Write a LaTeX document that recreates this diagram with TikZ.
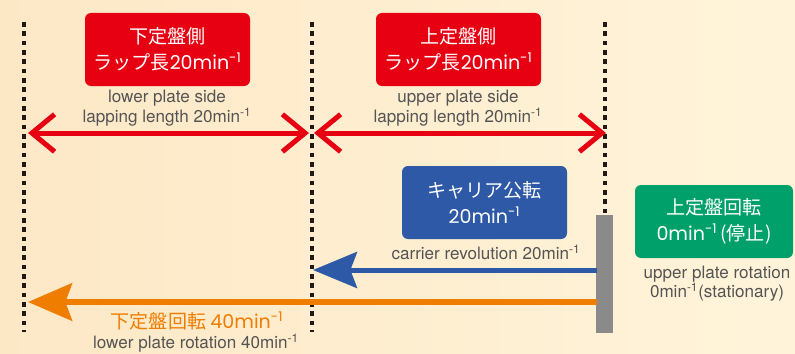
\documentclass[tikz,border=0pt]{standalone}
\usepackage{fontspec}
\setmainfont{TeX Gyre Heros}
\newfontfamily\jpfont{Noto Sans CJK JP}
\newfontfamily\numfont{Poppins}
\usetikzlibrary{arrows.meta}
\definecolor{bgleft}{HTML}{FDE8C6}
\definecolor{bgright}{HTML}{FFF4DA}
\definecolor{lapred}{HTML}{E60012}
\definecolor{carblue}{HTML}{2D59A6}
\definecolor{upgreen}{HTML}{00A06B}
\definecolor{loworange}{HTML}{EF7D00}
\definecolor{bargray}{HTML}{8A8A8A}
\definecolor{dotblack}{HTML}{231815}
\definecolor{txtgray}{HTML}{555454}
\newcommand{\permin}{min\textsuperscript{-1}}

\begin{document}
\begin{tikzpicture}[x=0.75pt,y=-0.75pt,
	colbox/.style={rounded corners=4.5pt, text=white, align=center, inner sep=0pt,
		minimum width=123.75pt, minimum height=54.75pt,
		font=\jpfont\fontsize{14.3}{19.5}\selectfont},
	engtext/.style={text=txtgray, align=center, inner sep=0pt,
		font=\fontsize{12.8}{14.6}\selectfont},
	guide/.style={draw=dotblack, line width=3pt, dash pattern=on 3.6pt off 3.4pt}]
	\useasboundingbox (0,0) rectangle (795,353);
	\shade[left color=bgleft, right color=bgright] (0,0) rectangle (795,353); % background

	% guide lines
	\coordinate (gLtop) at (24,22);   \coordinate (gLbot) at (24,332);
	\coordinate (gMtop) at (312,22);  \coordinate (gMbot) at (312,332);
	\coordinate (gRtop) at (605,22);  \coordinate (gRbot) at (605,215);
	\draw[guide] (gLtop) -- (gLbot);
	\draw[guide] (gMtop) -- (gMbot);
	\draw[guide] (gRtop) -- (gRbot);

	% upper plate (stationary)
	\node[fill=bargray, anchor=north west, inner sep=0pt, minimum width=12.75pt, minimum height=88.5pt] (bar) at (596,215) {};

	% lapping length boxes
	\node[colbox, fill=lapred] (lowbox) at (167.5,49.5) {下定盤側\\ラップ長{\numfont 20\permin}};
	\node[colbox, fill=lapred] (upbox) at (458.5,49.5) {上定盤側\\ラップ長{\numfont 20\permin}};
	\node[engtext] (lowlap) at (167,108) {lower plate side\\lapping length 20\permin};
	\node[engtext] (uplap) at (458,108) {upper plate side\\lapping length 20\permin};

	\coordinate (lapA) at (28,133);
	\coordinate (lapB) at (309,133);
	\coordinate (lapC) at (314,133);
	\coordinate (lapD) at (606,133);
	\draw[lapred, line width=3.75pt, {Straight Barb[length=17pt,width=28pt]}-{Straight Barb[length=17pt,width=28pt]}] (lapA) -- (lapB);
	\draw[lapred, line width=3.75pt, {Straight Barb[length=17pt,width=28pt]}-{Straight Barb[length=17pt,width=28pt]}] (lapC) -- (lapD);

	% carrier revolution
	\node[colbox, fill=carblue] (carbox) at (484.5,202.5) {キャリア公転\\{\numfont 20\permin}};
	\node[engtext] (carlab) at (486,252) {carrier revolution 20\permin};
	\coordinate (carS) at (597,270);
	\coordinate (carE) at (313,270);
	\draw[carblue, line width=3.75pt, -{Stealth[length=33pt,width=27pt,inset=5pt]}] (carS) -- (carE);

	% upper plate rotation
	\node[colbox, fill=upgreen, minimum width=118.5pt] (upbox2) at (714,221.5) {上定盤回転\\{\numfont 0\permin}\,(停止)};
	\node[engtext] (uprot) at (717,283.5) {upper plate rotation\\0\permin(stationary)};

	% lower plate rotation
	\coordinate (lowS) at (597,302);
	\coordinate (lowE) at (28,302);
	\draw[loworange, line width=4.5pt, -{Stealth[length=33pt,width=28pt,inset=5pt]}] (lowS) -- (lowE);
	\node[text=loworange, inner sep=0pt, font=\jpfont\fontsize{14.3}{16}\selectfont] (lowrot) at (197,321) {下定盤回転 {\numfont 40\permin}};
	\node[engtext] (lowroten) at (196,343.5) {lower plate rotation 40\permin};
\end{tikzpicture}
\end{document}
